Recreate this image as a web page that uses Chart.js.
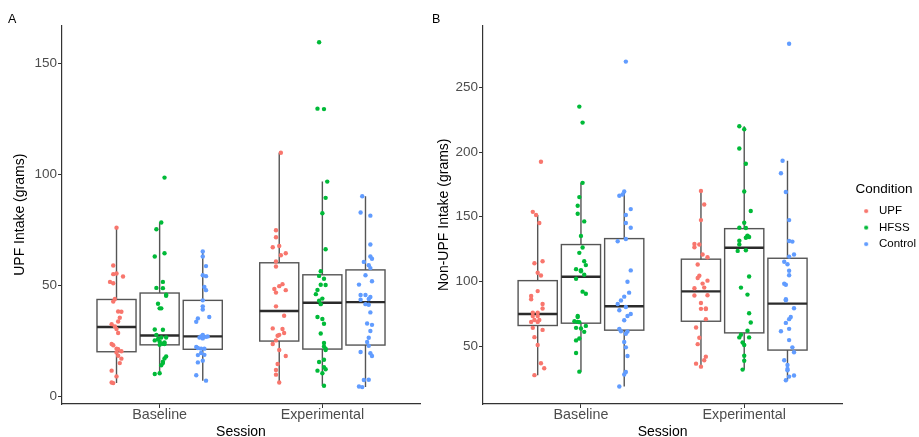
<!DOCTYPE html>
<html><head><meta charset="utf-8">
<script src="https://cdn.jsdelivr.net/npm/chart.js@4.4.1/dist/chart.umd.min.js"></script>
<style>
html,body{margin:0;padding:0;background:#fff;overflow:hidden;width:919px;height:437px;position:relative}
#ca{position:absolute;left:0;top:0;width:430px;height:437px}
#cb{position:absolute;left:430px;top:0;width:500px;height:437px}
</style></head>
<body>
<canvas id="ca" width="430" height="437"></canvas>
<canvas id="cb" width="500" height="437"></canvas>
<script>
// ---------- categories / ticks ----------
const sessions = ['Baseline', 'Experimental'];
const conditions = ['UPF', 'HFSS', 'Control'];
const yTicksA = [0, 50, 100, 150];
const yTicksB = [50, 100, 150, 200, 250];

// ---------- Panel A: UPF intake (grams), individual participants ----------
const aBaseUPF = [76.0,59.0,55.4,55.1,54.0,51.6,51.0,43.9,42.8,38.3,38.2,35.5,33.8,32.6,31.6,30.4,28.6,23.7,23.1,21.6,21.3,20.4,19.9,18.4,17.1,15.1,11.7,9.1,6.4,6.1];
const aBaseHFSS = [98.5,78.3,75.3,64.5,63.0,51.6,48.9,48.8,45.8,45.4,41.8,39.7,39.7,30.2,30.1,27.8,26.6,26.6,25.9,25.3,24.8,24.4,23.8,23.7,23.3,18.1,17.2,15.7,15.1,14.1,10.5,10.2];
const aBaseControl = [65.3,63.0,58.7,54.6,54.2,49.3,47.9,43.3,40.6,39.2,35.2,35.8,33.7,27.8,27.1,26.8,26.9,27.1,26.6,26.2,22.3,21.9,21.6,21.6,19.6,18.7,18.8,16.2,15.4,9.6,7.2];
const aExpUPF = [109.7,74.8,71.7,67.2,67.8,64.5,63.6,60.8,58.5,50.6,49.7,48.4,47.9,46.8,40.6,36.4,30.7,30.4,28.6,27.8,27.4,25.3,23.7,21.0,18.3,14.7,12.0,9.9,6.4];
const aExpHFSS = [159.4,129.5,129.3,96.7,89.4,82.5,66.3,56.4,54.3,53.0,50.3,50.2,48.0,46.1,44.1,43.1,41.6,35.8,34.9,32.8,28.4,24.1,22.6,21.0,21.6,16.6,15.6,13.3,12.3,11.7,10.5,4.9];
const aExpControl = [90.1,82.8,81.4,68.4,63.0,62.0,60.6,59.1,57.8,54.6,51.9,50.4,45.7,45.7,44.8,43.9,43.6,41.6,41.3,37.9,32.9,32.3,29.5,26.5,24.6,22.9,20.1,19.5,18.3,7.5,7.6,4.6,4.3];

// horizontal jitter of each point (category units)
const aBaseUPFJit = [0,-0.02,0,-0.02,0.04,-0.04,-0.02,-0.01,-0.02,0.01,0.03,0.02,0.01,-0.03,-0.01,0,0.01,-0.03,-0.02,0,0.01,0.03,0,0.01,0.03,0.02,-0.03,0,-0.03,-0.02];
const aBaseHFSSJit = [0.03,0.01,-0.02,0.03,-0.03,0.02,-0.02,0.02,0.04,0.04,-0.01,0,0.01,-0.03,0.02,-0.02,0.01,0.04,-0.01,-0.03,0,0.03,0.02,0.03,0,0.04,0.03,0.02,0.02,0.01,0,-0.03];
const aBaseControlJit = [0,0,0.02,0,0.02,0.01,0.02,0,0,0,-0.03,0.04,-0.04,0,-0.01,0,0.02,0.03,-0.02,0,-0.04,-0.03,-0.01,0.01,-0.01,-0.03,0.01,0,-0.03,-0.04,0.02];
const aExpUPFJit = [0.01,-0.02,-0.02,-0.04,0,0.04,0.01,-0.02,-0.02,0.02,0,-0.03,0.04,-0.02,-0.02,0.03,-0.04,0.02,0.03,0,-0.01,-0.02,-0.04,0,0.04,-0.01,-0.02,-0.02,0];
const aExpHFSSJit = [-0.02,-0.03,0.01,0.03,0.02,0,0.02,-0.01,-0.02,0.01,-0.01,0.02,-0.03,-0.04,0,-0.02,-0.01,-0.03,0,0.01,-0.01,0.01,0.01,0.02,0.02,0.01,-0.02,0.01,0.02,-0.03,0,0.01];
const aExpControlJit = [-0.02,-0.03,0.03,0.03,0.03,0.04,-0.01,0.02,0.03,0,0.04,-0.04,-0.03,0,0.03,0.02,-0.03,0,0.02,0.03,0.01,0.04,0.03,0.02,0.01,0.02,-0.03,0.03,0.04,-0.01,0.02,-0.04,-0.02];

// box statistics, order: Baseline UPF/HFSS/Control, Experimental UPF/HFSS/Control
const boxLowA  = [6.1, 10.2, 7.2, 6.4, 4.9, 4.3];
const boxQ1A   = [20.2, 23.3, 21.3, 25.0, 21.4, 23.2];
const boxMedA  = [31.3, 27.5, 27.1, 38.5, 42.2, 42.5];
const boxQ3A   = [43.7, 46.6, 43.3, 60.2, 54.8, 57.0];
const boxHighA = [76.0, 78.3, 65.3, 109.7, 96.7, 90.1];

// ---------- Panel B: Non-UPF intake (grams) ----------
const bBaseUPF = [192.5,153.8,151.3,145.2,114.1,115.6,106.7,104.6,92.5,88.7,86.2,82.5,79.0,75.9,75.9,73.3,73.3,70.2,70.2,68.7,68.7,64.1,62.5,56.9,50.8,36.7,32.8,27.5];
const bBaseHFSS = [235.2,222.8,176.2,165.2,158.5,152.3,146.4,135.2,126.2,122.1,115.6,112.6,109.5,108.7,107.9,105.2,102.1,92.1,90.5,73.3,72.5,69.2,68.7,68.5,64.1,65.6,63.6,61.0,55.9,54.4,44.6,30.2];
const bBaseControl = [270.0,169.5,166.2,167.2,155.9,151.3,145.2,141.5,132.8,131.0,108.5,99.7,91.3,88.2,85.2,82.5,80.2,77.7,74.8,73.3,70.0,63.3,61.5,61.3,59.5,53.1,49.0,42.3,30.0,28.0,18.7];
const bExpUPF = [170.0,159.5,147.4,129.0,128.5,126.4,120.8,118.7,113.1,104.4,102.6,100.6,98.3,95.2,94.7,89.3,89.1,83.3,78.8,79.1,78.6,70.8,64.4,56.4,51.5,41.8,39.0,36.4,34.1];
const bExpHFSS = [220.0,217.7,202.8,191.0,169.5,154.4,145.4,141.5,141.3,135.4,134.9,134.4,133.8,131.5,128.5,123.6,124.1,103.8,95.2,89.8,75.4,68.2,61.8,58.7,56.7,56.7,52.8,50.8,42.5,38.7,31.8];
const bExpControl = [283.8,193.3,183.6,169.2,147.4,131.3,130.8,120.8,119.2,115.2,113.3,108.2,104.8,98.2,97.4,86.2,85.4,79.2,72.5,70.8,67.9,61.5,63.3,54.6,49.0,45.2,39.0,35.4,32.3,31.3,27.2,26.4,23.6];

const bBaseUPFJit = [0.02,-0.03,-0.01,0.01,-0.02,0.03,0,0.02,0,-0.04,-0.04,0.03,0.03,-0.03,0,-0.03,0,-0.02,0.01,-0.04,0,-0.03,0.03,-0.02,0,0.02,0.04,-0.02];
const bBaseHFSSJit = [-0.01,0.01,0.01,-0.01,-0.02,-0.02,0.02,0,0.01,-0.01,0.02,0.03,-0.03,0,0,0.02,-0.03,0.01,0.03,-0.02,-0.02,-0.04,-0.02,-0.01,-0.03,0.03,0,0.02,-0.01,-0.03,-0.03,-0.01];
const bBaseControlJit = [0.01,0,-0.03,-0.01,0.04,0.01,0.01,0.04,0.01,-0.04,0.04,0.02,0.03,0,-0.02,-0.04,0.01,-0.03,0.04,0.02,0,-0.03,-0.02,0.02,0.01,0,0.01,0.02,0.01,0,-0.03];
const bExpUPFJit = [0,0.02,0,-0.04,-0.01,-0.04,0.01,0.04,-0.02,-0.01,-0.02,0.04,0.01,0.02,-0.04,0.04,-0.04,0,0,0.03,0.03,0.03,-0.03,-0.01,-0.02,0.03,0.02,-0.03,0];
const bExpHFSSJit = [-0.03,0,-0.03,0.01,0,0.04,0,-0.03,0.01,0.02,0.02,0.03,0.01,-0.03,-0.03,-0.04,0.01,0.03,-0.02,0.02,0.03,0.04,0.02,-0.02,-0.03,0.03,-0.01,0,0,0,-0.01];
const bExpControlJit = [0.01,-0.03,-0.04,-0.01,0.01,0.01,0.03,0.04,0.01,-0.02,0,0.01,0.01,-0.02,-0.01,-0.01,-0.01,0.04,0.02,0.01,-0.01,-0.04,0.01,0.01,0.03,0.04,-0.02,0,0,0,0.04,0.01,-0.01];

const boxLowB  = [27.5, 30.2, 18.7, 34.1, 31.8, 23.6];
const boxQ1B   = [65.9, 67.7, 62.3, 69.2, 60.2, 46.9];
const boxMedB  = [74.8, 103.6, 80.8, 92.3, 126.0, 82.8];
const boxQ3B   = [100.6, 128.5, 133.1, 117.2, 140.8, 117.9];
const boxHighB = [151.3, 176.2, 169.5, 170.0, 220.0, 193.3];

// ---------- styling ----------
const FONT = "'Liberation Sans', Arial, Helvetica, sans-serif";
Chart.defaults.font.family = FONT;
const condColors = ['#F8766D', '#00BA38', '#619CFF'];
const dodge = [-0.265, 0, 0.265];
const boxHalf = 0.12;
const axisColor = '#333333';
const tickTextColor = '#4D4D4D';

function buildDatasets(groups, jitters) {
  return conditions.map((cond, c) => {
    const pts = [];
    sessions.forEach((s, si) => {
      const vals = groups[si][c], jit = jitters[si][c];
      vals.forEach((v, i) => pts.push({ x: si + 1 + dodge[c] + (jit[i] || 0), y: v }));
    });
    return {
      label: cond, data: pts, backgroundColor: condColors[c], borderColor: condColors[c],
      borderWidth: 0, pointRadius: 2.2, pointHoverRadius: 2.2
    };
  });
}

function boxPlugin(lo, q1, med, q3, hi) {
  return {
    id: 'boxes',
    beforeDatasetsDraw(chart) {
      const { ctx } = chart; const xs = chart.scales.x, ys = chart.scales.y;
      ctx.save();
      lo.forEach((_, i) => {
        const si = Math.floor(i / 3), c = i % 3;
        const cx = si + 1 + dodge[c];
        const xl = xs.getPixelForValue(cx - boxHalf), xr = xs.getPixelForValue(cx + boxHalf), xm = xs.getPixelForValue(cx);
        const yLo = ys.getPixelForValue(lo[i]), yQ1 = ys.getPixelForValue(q1[i]);
        const yMed = ys.getPixelForValue(med[i]), yQ3 = ys.getPixelForValue(q3[i]), yHi = ys.getPixelForValue(hi[i]);
        ctx.strokeStyle = '#555555'; ctx.lineWidth = 1.4;
        ctx.beginPath();
        ctx.moveTo(xm, yHi); ctx.lineTo(xm, yQ3);
        ctx.moveTo(xm, yQ1); ctx.lineTo(xm, yLo);
        ctx.stroke();
        ctx.strokeRect(xl, yQ3, xr - xl, yQ1 - yQ3);
        ctx.strokeStyle = '#2b2b2b'; ctx.lineWidth = 2.4;
        ctx.beginPath(); ctx.moveTo(xl, yMed); ctx.lineTo(xr, yMed); ctx.stroke();
      });
      ctx.restore();
    }
  };
}

function legendDot(color) {
  const cv = document.createElement('canvas');
  cv.width = 26; cv.height = 6;
  const g = cv.getContext('2d');
  g.fillStyle = color; g.beginPath(); g.arc(19, 3, 2.1, 0, Math.PI * 2); g.fill();
  return cv;
}

function makeConfig(groups, jitters, stats, yMin, yMax, yTicks, yTitle, panel, yWidth, padLeft, padRight, showLegend) {
  return {
    type: 'scatter',
    data: { datasets: buildDatasets(groups, jitters) },
    plugins: [boxPlugin(...stats)],
    options: {
      responsive: false, animation: false, events: [],
      layout: { padding: { left: padLeft, right: padRight, top: 0, bottom: 0 } },
      plugins: {
        tooltip: { enabled: false },
        title: {
          display: true, text: panel, align: 'start', color: '#000',
          font: { size: 12.5, weight: 'normal', lineHeight: 1 }, padding: { top: 13, bottom: 0 }
        },
        legend: {
          display: showLegend, position: 'right', align: 'center',
          title: { display: true, text: 'Condition', color: '#000', position: 'center',
                   font: { size: 13.5, lineHeight: 1.2 }, padding: { top: 0, bottom: 2 } },
          labels: {
            usePointStyle: true, pointStyleWidth: 26, boxHeight: 6, padding: 5, color: '#000',
            font: { size: 11.5 },
            generateLabels(chart) {
              return chart.data.datasets.map((ds, i) => ({
                text: ds.label, fillStyle: ds.backgroundColor, strokeStyle: ds.backgroundColor,
                lineWidth: 0, pointStyle: legendDot(ds.backgroundColor), datasetIndex: i, hidden: false
              }));
            }
          }
        }
      },
      scales: {
        x: {
          type: 'linear', min: 0.4, max: 2.6,
          afterBuildTicks: s => { s.ticks = sessions.map((_, i) => ({ value: i + 1 })); },
          afterFit: s => { s.height = 33; },
          ticks: { callback: v => sessions[v - 1], color: tickTextColor, padding: 0,
                   font: { size: 14.3, lineHeight: 1 }, maxRotation: 0 },
          grid: { drawOnChartArea: false, color: axisColor, tickLength: 4, tickWidth: 1 },
          border: { display: true, color: axisColor, width: 1.2 },
          title: { display: true, text: 'Session', color: '#000', font: { size: 14, lineHeight: 0.75 },
                   padding: { top: 0, bottom: 0 } }
        },
        y: {
          type: 'linear', min: yMin, max: yMax,
          afterBuildTicks: s => { s.ticks = yTicks.map(v => ({ value: v })); },
          afterFit: s => { s.width = yWidth; },
          ticks: { color: tickTextColor, padding: 1, font: { size: 13.5 } },
          grid: { drawOnChartArea: false, color: axisColor, tickLength: 4, tickWidth: 1 },
          border: { display: true, color: axisColor, width: 1.2 },
          title: { display: true, text: yTitle, color: '#000', font: { size: 14, lineHeight: 1.2 },
                   padding: { top: 3.6, bottom: 0 } }
        }
      }
    }
  };
}

new Chart(document.getElementById('ca'), makeConfig(
  [[aBaseUPF, aBaseHFSS, aBaseControl], [aExpUPF, aExpHFSS, aExpControl]],
  [[aBaseUPFJit, aBaseHFSSJit, aBaseControlJit], [aExpUPFJit, aExpHFSSJit, aExpControlJit]],
  [boxLowA, boxQ1A, boxMedA, boxQ3A, boxHighA],
  -3.3, 166.9, yTicksA, 'UPF Intake (grams)', 'A', 54, 8, 10, false));

new Chart(document.getElementById('cb'), makeConfig(
  [[bBaseUPF, bBaseHFSS, bBaseControl], [bExpUPF, bExpHFSS, bExpControl]],
  [[bBaseUPFJit, bBaseHFSSJit, bBaseControlJit], [bExpUPFJit, bExpHFSSJit, bExpControlJit]],
  [boxLowB, boxQ1B, boxMedB, boxQ3B, boxHighB],
  5.2, 297.9, yTicksB, 'Non-UPF Intake (grams)', 'B', 51, 2, 4, true));
</script>
</body></html>
